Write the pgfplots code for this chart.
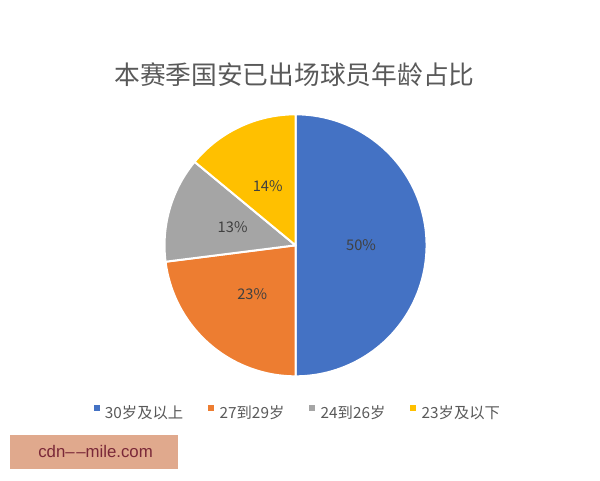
\documentclass[border=0pt]{standalone}
\usepackage{pgfplots}
\pgfplotsset{compat=1.18}
\usepackage{fontspec}
\setmainfont{Noto Sans CJK SC}
\newfontfamily\wmfont{Liberation Sans}
\definecolor{pieblue}{HTML}{4472C4}
\definecolor{pieorange}{HTML}{ED7D31}
\definecolor{piegray}{HTML}{A5A5A5}
\definecolor{pieyellow}{HTML}{FFC000}
\definecolor{txtgray}{HTML}{595959}
\definecolor{lblgray}{HTML}{404040}
\definecolor{wmbg}{HTML}{E0A98D}
\definecolor{wmtxt}{HTML}{7A2838}
\begin{document}
\begin{tikzpicture}[x=1pt,y=1pt]
\path[use as bounding box] (0,0) rectangle (450,360);
\node[font=\fontsize{19.3}{22}\selectfont, text=txtgray] at (220.8,303.75) {本赛季国安已出场球员年龄占比};
\begin{axis}[
  at={(125.6,79.15)}, anchor=south west,
  scale only axis, width=196.5pt, height=196.5pt,
  xmin=-1, xmax=1, ymin=-1, ymax=1,
  hide axis, clip=false,
  legend columns=4,
  legend style={at={(0.505,-0.139)}, anchor=center, draw=none, fill=none,
    font=\fontsize{11.5}{13}\selectfont, text=txtgray,
    nodes={inner sep=0pt},
    /tikz/every odd column/.append style={column sep=4pt},
    /tikz/every even column/.append style={column sep=18.75pt}},
  legend image code/.code={\fill[#1,draw=none] (0pt,1.5pt) rectangle (4.5pt,6pt);},
]
\xdef\cum{90}
\foreach \v/\c/\n in {50/pieblue/30岁及以上, 23/pieorange/27到29岁, 13/piegray/24到26岁, 14/pieyellow/23岁及以下} {
  \pgfmathsetmacro\sa{\cum}
  \pgfmathsetmacro\sb{\cum-3.6*\v}
  \pgfmathsetmacro\sm{(\sa+\sb)/2}
  \edef\temp{%
    \noexpand\addplot[fill=\c, draw=white, line width=1.5pt, line join=round, domain=\sb:\sa, samples=90, variable=\noexpand\t]
      ({cos(\noexpand\t)}, {sin(\noexpand\t)}) -- (axis cs:0,0) -- cycle;
    \noexpand\addlegendentry{\n}
    \noexpand\node[font=\noexpand\fontsize{11}{12}\noexpand\selectfont, text=lblgray] at (axis cs:{0.5*cos(\sm)},{0.5*sin(\sm)}) {\v\noexpand\%};
  }%
  \temp
  \xdef\cum{\sb}
}
\end{axis}
\fill[wmbg] (7.5,8.25) rectangle (133.5,33.75);
\node[anchor=base west, inner sep=0pt, font=\wmfont\fontsize{12.6}{14}\selectfont, text=wmtxt] at (28.5,16.7) {cdn–\kern1.2pt–mile.com};
\end{tikzpicture}
\end{document}
